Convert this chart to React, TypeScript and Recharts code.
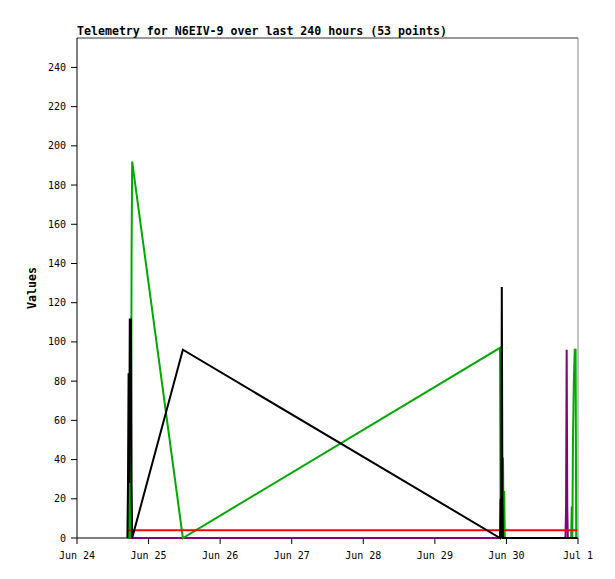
import React from 'react';
import { LineChart, Line, XAxis, YAxis, ReferenceLine } from 'recharts';

// hours since Jun 24 00:00
const hours = [
  16.9, 17.1, 17.3, 17.5, 17.7, 17.9, 18.1, 18.3, 18.5,
  35.5,
  141.85, 142.05, 142.25, 142.45, 142.65, 142.85, 143.05, 143.25, 143.45,
  163.8, 164.0, 164.2, 164.4, 164.6, 165.7, 165.9, 166.1, 166.3, 166.6, 166.9, 167.2, 167.4, 167.8,
];

const blackValues = [
  0, 28, 84, 28, 112, 84, 112, 28, 0,
  96,
  0, 20, 0, 128, 20, 0, 0, 0, 0,
  0, 0, 0, 0, 0, 0, 0, 0, 0, 0, 0, 0, 0, 0,
];

const greenValues = [
  0, 0, 28, 0, 28, 0, 28, 144, 192,
  0,
  97, 0, 0, 0, 0, 41, 0, 24, 0,
  0, 0, 0, 0, 0, 0, 16, 0, 48, 80, 96, 96, 0, 0,
];

const redValues = [
  4, 4, 4, 4, 4, 4, 4, 4, 4,
  4,
  4, 4, 4, 4, 4, 4, 4, 4, 4,
  4, 4, 4, 4, 4, 4, 4, 4, 4, 4, 4, 4, 4, 4,
];

const purpleValues = [
  0, 0, 0, 0, 0, 0, 0, 0, 0,
  0,
  0, 0, 0, 0, 0, 0, 0, 0, 0,
  0, 16, 96, 16, 0, 0, 0, 0, 0, 0, 0, 0, 0, 0,
];

const dayTicks = [0, 24, 48, 72, 96, 120, 144, 168];
const dayLabels = ['Jun 24', 'Jun 25', 'Jun 26', 'Jun 27', 'Jun 28', 'Jun 29', 'Jun 30', 'Jul 1'];
const valueTicks = [0, 20, 40, 60, 80, 100, 120, 140, 160, 180, 200, 220, 240];

const rows = hours.map((h, i) => ({
  h,
  black: blackValues[i],
  green: greenValues[i],
  red: redValues[i],
  purple: purpleValues[i],
}));

const mono = '"DejaVu Sans Mono", monospace';

export default function App() {
  return (
    <div style={{ position: 'absolute', left: 0, top: 0, width: 615, height: 579, background: '#fff' }}>
      <div
        style={{
          position: 'absolute', left: 77, top: 25, fontFamily: mono, fontWeight: 'bold',
          fontSize: 11.6, lineHeight: '12px', whiteSpace: 'nowrap', color: '#000',
        }}
      >
        Telemetry for N6EIV-9 over last 240 hours (53 points)
      </div>
      <div
        style={{
          position: 'absolute', left: 32, top: 288, fontFamily: mono, fontWeight: 'bold',
          fontSize: 11.6, lineHeight: '12px', whiteSpace: 'nowrap', color: '#000',
          transform: 'translate(-50%, -50%) rotate(-90deg)',
        }}
      >
        Values
      </div>
      <LineChart width={615} height={579} data={rows} margin={{ top: 38, right: 37, left: 0, bottom: 0 }}>
        <XAxis
          dataKey="h"
          type="number"
          domain={[0, 168]}
          ticks={dayTicks}
          interval={0}
          axisLine={false}
          tickFormatter={(v: number) => dayLabels[dayTicks.indexOf(v)]}
          height={41}
          tickSize={6}
          tickMargin={8}
          stroke="#000"
          tick={{ fill: '#000', fontSize: 10, fontFamily: mono }}
        />
        <YAxis
          type="number"
          domain={[0, 255]}
          ticks={valueTicks}
          interval={0}
          width={77}
          tickSize={6}
          tickMargin={5}
          stroke="#000"
          tick={{ fill: '#000', fontSize: 10, fontFamily: mono }}
        />
        <ReferenceLine y={0} stroke="#000" />
        <ReferenceLine y={255} stroke="#333" />
        <ReferenceLine x={168} stroke="#888" />
        <Line type="linear" dataKey="purple" stroke="#800080" strokeWidth={2} dot={false} isAnimationActive={false} />
        <Line type="linear" dataKey="green" stroke="#00a800" strokeWidth={2} dot={false} isAnimationActive={false} />
        <Line type="linear" dataKey="red" stroke="#ff0000" strokeWidth={2} dot={false} isAnimationActive={false} />
        <Line type="linear" dataKey="black" stroke="#000" strokeWidth={2} dot={false} isAnimationActive={false} />
      </LineChart>
    </div>
  );
}
